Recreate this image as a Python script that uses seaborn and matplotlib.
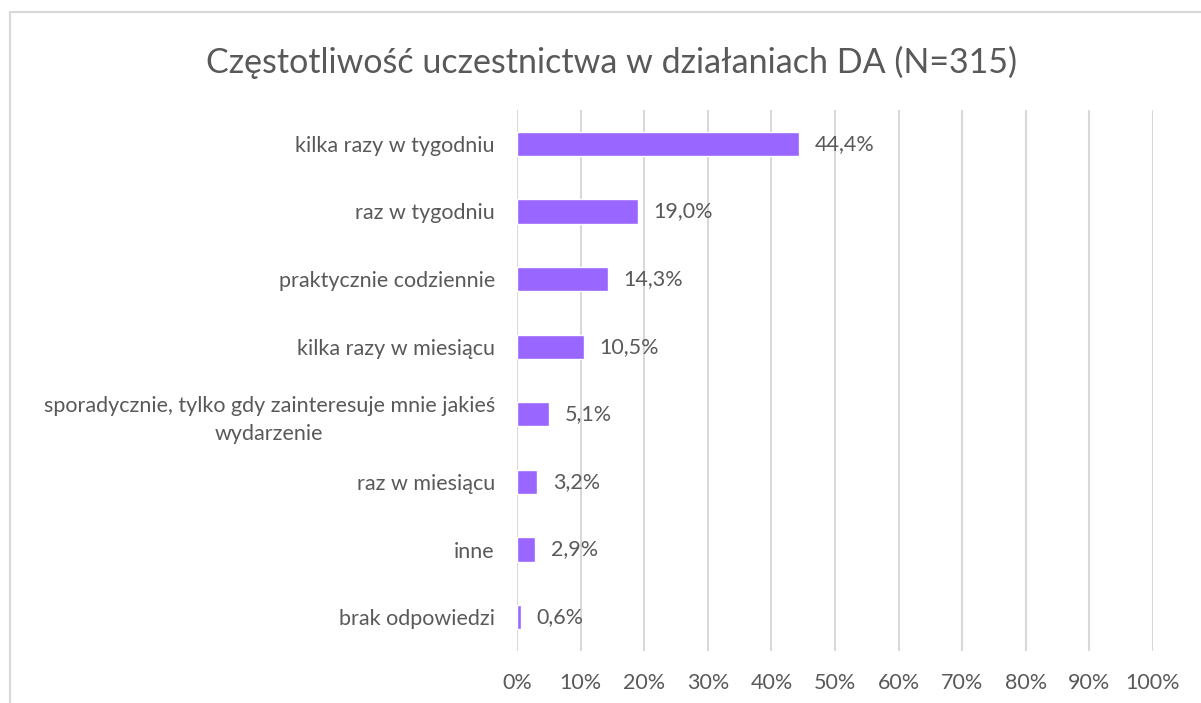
import pandas as pd
import matplotlib
matplotlib.use('Agg')
import matplotlib.pyplot as plt
from matplotlib.lines import Line2D
from matplotlib.ticker import FuncFormatter
import seaborn as sns

kategorie = ['kilka razy w tygodniu', 'raz w tygodniu', 'praktycznie codziennie',
             'kilka razy w miesiącu',
             'sporadycznie, tylko gdy zainteresuje mnie jakieś\nwydarzenie',
             'raz w miesiącu', 'inne', 'brak odpowiedzi']
procenty = [44.4, 19.0, 14.3, 10.5, 5.1, 3.2, 2.9, 0.6]
xticki = [0, 10, 20, 30, 40, 50, 60, 70, 80, 90, 100]

df = pd.DataFrame({'kategoria': kategorie, 'procent': procenty})

sns.set_style('white')
plt.rcParams['font.family'] = ['Lato', 'DejaVu Sans']
szary = '#595959'
linia = '#D9D9D9'

fig = plt.figure(figsize=(12.01, 7.03), dpi=100)
ax = fig.add_axes([517 / 1201, 1 - 651 / 703, 636 / 1201, 541 / 703])

sns.barplot(data=df, x='procent', y='kategoria', orient='h', color='#9966FF',
            saturation=1, width=0.36, ax=ax, zorder=3)

ax.set_xlim(0, 100)
ax.set_ylim(7.5, -0.5)
ax.set_xticks(xticki)
ax.xaxis.set_major_formatter(FuncFormatter(lambda v, p: f'{v:.0f}%'))
ax.grid(axis='x', color=linia, linewidth=1.5, zorder=0)
ax.grid(axis='y', visible=False)
for s in ax.spines.values():
    s.set_visible(False)
ax.tick_params(axis='both', length=0, labelsize=15.5, labelcolor=szary)
ax.tick_params(axis='x', pad=16)
ax.tick_params(axis='y', pad=16)
for lab in ax.get_yticklabels():
    lab.set_multialignment('center')
    lab.set_linespacing(1.45)
ax.set_xlabel('')
ax.set_ylabel('')

ax.bar_label(ax.containers[0], labels=[f'{v:.1f}%'.replace('.', ',') for v in procenty],
             padding=11, fontsize=15.5, color=szary)

fig.text(612 / 1201, 1 - 62 / 703, 'Częstotliwość uczestnictwa w działaniach DA (N=315)',
         ha='center', va='center', fontsize=24.5, color=szary)

# ramka wykresu
fig.add_artist(Line2D([10 / 1201, 1], [1 - 12 / 703, 1 - 12 / 703], color=linia, lw=1.5))
fig.add_artist(Line2D([10 / 1201, 10 / 1201], [0, 1 - 12 / 703], color=linia, lw=1.5))

fig.savefig('out.png', dpi=100, facecolor='white')
